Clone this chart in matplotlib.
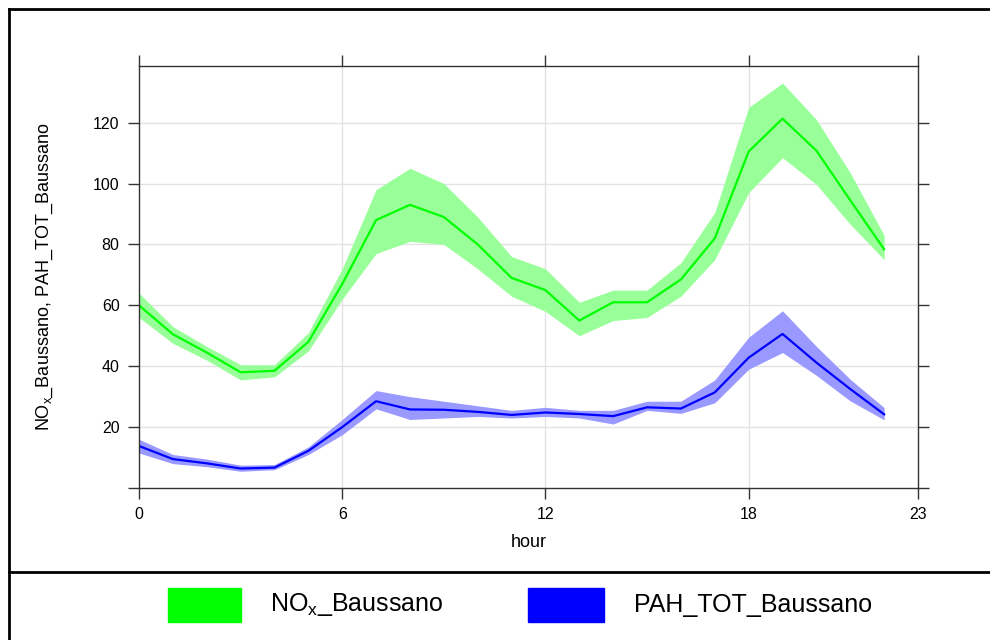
import numpy as np
import matplotlib
matplotlib.use('Agg')
import matplotlib.pyplot as plt
from matplotlib.patches import Rectangle
from matplotlib.lines import Line2D

plt.rcParams['font.family'] = ['Liberation Sans', 'DejaVu Sans']

# hourly means and confidence bands
hours = list(range(23))
nox_mean = [60, 50.5, 44.5, 38, 38.5, 48, 67, 88, 93, 89, 80, 69, 65, 55, 61, 61, 68.5, 82, 110.5, 121.3, 110.8, 94.5, 78.4]
nox_upper = [64, 53, 46.5, 40.5, 40.5, 51, 72, 98, 105, 100, 89, 76, 72, 61, 65, 65, 74, 90.5, 125, 133, 121, 103.5, 83]
nox_lower = [56, 47.5, 42, 35.5, 36.5, 45, 62, 77, 81, 80, 72, 63, 58, 50, 55, 56, 63, 75, 97, 108.5, 99.7, 86.6, 75]
pah_mean = [13.8, 9.5, 8.1, 6.4, 6.7, 12.2, 20, 28.5, 25.8, 25.7, 25, 24, 24.8, 24.3, 23.6, 26.5, 26.1, 31.4, 42.8, 50.6, 41.2, 32.5, 24.2]
pah_upper = [16, 11, 9.5, 7.5, 7.7, 13.5, 22.5, 32, 30, 28.5, 27, 25.5, 26.5, 25.5, 25.5, 28.5, 28.5, 35.5, 49.5, 58.2, 46.5, 35.7, 26.4]
pah_lower = [11.5, 8, 7, 5.5, 6, 11, 17.5, 26, 22.5, 23, 23.5, 23, 23.5, 23, 21, 25.5, 24.5, 28, 39, 44.5, 37, 28.6, 22.4]

xticks = [0, 6, 12, 18, 23]
yticks = [0, 20, 40, 60, 80, 100, 120]
ylabels = ['', '20', '40', '60', '80', '100', '120']

W, H = 990, 640
fig = plt.figure(figsize=(9.9, 6.4), dpi=100)

# outer frame lines
fig.add_artist(Line2D([9 / W, 9 / W], [0, 1 - 9 / H], color='black', lw=2, transform=fig.transFigure))
fig.add_artist(Line2D([9 / W, 1], [1 - 9 / H, 1 - 9 / H], color='black', lw=2, transform=fig.transFigure))
fig.add_artist(Line2D([9 / W, 1], [1 - 572 / H, 1 - 572 / H], color='black', lw=2, transform=fig.transFigure))

ax = fig.add_axes([139 / W, 1 - 488 / H, (918 - 139) / W, (488 - 66) / H])

ax.fill_between(hours, nox_lower, nox_upper, color='#99ff99', lw=0)
ax.plot(hours, nox_mean, color='#00ff00', lw=1.6)
ax.fill_between(hours, pah_lower, pah_upper, color='#9999ff', lw=0)
ax.plot(hours, pah_mean, color='#0000ff', lw=1.6)

ax.set_xlim(0, 23)
ax.set_ylim(0, 138.6)
ax.set_xticks(xticks)
ax.set_xticklabels([str(t) for t in xticks])
ax.set_yticks(yticks)
ax.set_yticklabels(ylabels)

# grid lines (not at the axis ends)
for t in [6, 12, 18]:
    ax.axvline(t, color='#e3e3e3', lw=1, zorder=0)
for t in yticks[1:]:
    ax.axhline(t, color='#e3e3e3', lw=1, zorder=0)

for s in ax.spines.values():
    s.set_linewidth(1.0)
    s.set_color('#333333')
ax.tick_params(direction='out', length=8, width=1, color='#333333', labelsize=11.5,
               top=True, right=True, labeltop=False, labelright=False, pad=6)

ax.set_xlabel('hour', fontsize=13, labelpad=8)
ax.set_ylabel(r'NO$_{\mathregular{x}}$_Baussano, PAH_TOT_Baussano', fontsize=13)
ax.yaxis.set_label_coords(-(139 - 55) / (918 - 139), 0.5)

# legend below
fig.add_artist(Rectangle((168 / W, 1 - 622 / H), 73 / W, 34 / H, color='#00ff00', transform=fig.transFigure))
fig.add_artist(Rectangle((528 / W, 1 - 622 / H), 76 / W, 34 / H, color='#0000ff', transform=fig.transFigure))
fig.text(270 / W, 1 - 605 / H, r'NO$_{\mathregular{x}}$_Baussano', fontsize=18, va='center', ha='left')
fig.text(634 / W, 1 - 605 / H, 'PAH_TOT_Baussano', fontsize=18, va='center', ha='left')

plt.savefig('out.png', dpi=100)
